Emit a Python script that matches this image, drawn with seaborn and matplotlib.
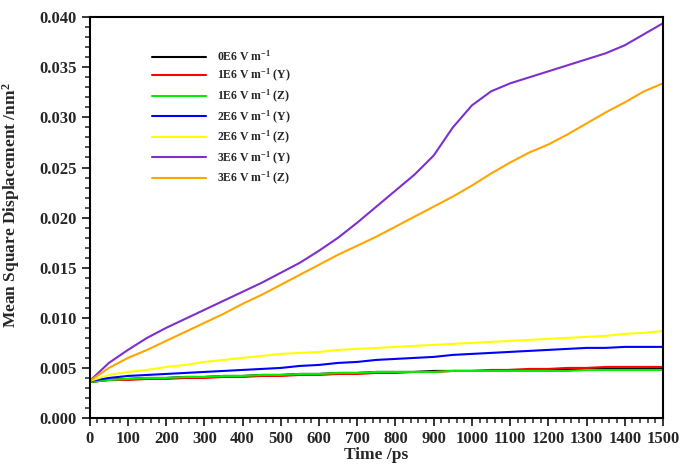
import matplotlib
matplotlib.use("Agg")
import matplotlib.pyplot as plt
from matplotlib.ticker import MultipleLocator, FormatStrFormatter
import seaborn as sns
import pandas as pd

# time axis (ps), sampled every 50 ps
time_ps = [0, 50, 100, 150, 200, 250, 300, 350, 400, 450, 500, 550, 600, 650, 700, 750,
           800, 850, 900, 950, 1000, 1050, 1100, 1150, 1200, 1250, 1300, 1350, 1400, 1450, 1500]

# mean square displacement (nm^2)
msd_0e6 = [0.0036, 0.0038, 0.0039, 0.0040, 0.0040, 0.0041, 0.0041, 0.0042, 0.0042, 0.0043, 0.0043,
           0.0044, 0.0044, 0.0045, 0.0045, 0.0046, 0.0046, 0.0046, 0.0047, 0.0047, 0.0047, 0.0047,
           0.0048, 0.0048, 0.0048, 0.0048, 0.0049, 0.0049, 0.0049, 0.0049, 0.0050]
msd_1e6_y = [0.0036, 0.0038, 0.0038, 0.0039, 0.0039, 0.0040, 0.0040, 0.0041, 0.0041, 0.0042, 0.0042,
             0.0043, 0.0043, 0.0044, 0.0044, 0.0045, 0.0045, 0.0046, 0.0046, 0.0047, 0.0047, 0.0048,
             0.0048, 0.0049, 0.0049, 0.0050, 0.0050, 0.0051, 0.0051, 0.0051, 0.0051]
msd_1e6_z = [0.0036, 0.0038, 0.0039, 0.0040, 0.0040, 0.0041, 0.0041, 0.0042, 0.0042, 0.0043, 0.0043,
             0.0044, 0.0044, 0.0045, 0.0045, 0.0046, 0.0046, 0.0046, 0.0046, 0.0047, 0.0047, 0.0047,
             0.0047, 0.0047, 0.0047, 0.0047, 0.0048, 0.0048, 0.0048, 0.0048, 0.0048]
msd_2e6_y = [0.0037, 0.0040, 0.0042, 0.0043, 0.0044, 0.0045, 0.0046, 0.0047, 0.0048, 0.0049, 0.0050,
             0.0052, 0.0053, 0.0055, 0.0056, 0.0058, 0.0059, 0.0060, 0.0061, 0.0063, 0.0064, 0.0065,
             0.0066, 0.0067, 0.0068, 0.0069, 0.0070, 0.0070, 0.0071, 0.0071, 0.0071]
msd_2e6_z = [0.0037, 0.0043, 0.0046, 0.0048, 0.0051, 0.0053, 0.0056, 0.0058, 0.0060, 0.0062, 0.0064,
             0.0065, 0.0066, 0.0068, 0.0069, 0.0070, 0.0071, 0.0072, 0.0073, 0.0074, 0.0075, 0.0076,
             0.0077, 0.0078, 0.0079, 0.0080, 0.0081, 0.0082, 0.0084, 0.0085, 0.0087]
msd_3e6_y = [0.0037, 0.0055, 0.0068, 0.0080, 0.0090, 0.0099, 0.0108, 0.0117, 0.0126, 0.0135, 0.0145,
             0.0155, 0.0167, 0.0180, 0.0195, 0.0211, 0.0227, 0.0243, 0.0262, 0.0290, 0.0312, 0.0326,
             0.0334, 0.0340, 0.0346, 0.0352, 0.0358, 0.0364, 0.0372, 0.0383, 0.0394]
msd_3e6_z = [0.0037, 0.0050, 0.0060, 0.0068, 0.0077, 0.0086, 0.0095, 0.0104, 0.0114, 0.0123, 0.0133,
             0.0143, 0.0153, 0.0163, 0.0172, 0.0181, 0.0191, 0.0201, 0.0211, 0.0221, 0.0232, 0.0244,
             0.0255, 0.0265, 0.0273, 0.0283, 0.0294, 0.0305, 0.0315, 0.0326, 0.0334]

labels = [r"0E6 V m$^{\mathbf{-1}}$",
          r"1E6 V m$^{\mathbf{-1}}$ (Y)",
          r"1E6 V m$^{\mathbf{-1}}$ (Z)",
          r"2E6 V m$^{\mathbf{-1}}$ (Y)",
          r"2E6 V m$^{\mathbf{-1}}$ (Z)",
          r"3E6 V m$^{\mathbf{-1}}$ (Y)",
          r"3E6 V m$^{\mathbf{-1}}$ (Z)"]
series = [msd_0e6, msd_1e6_y, msd_1e6_z, msd_2e6_y, msd_2e6_z, msd_3e6_y, msd_3e6_z]
colors = ["#000000", "#ff0000", "#00ee00", "#0000ff", "#ffff00", "#7d2fd0", "#ffa500"]

frames = []
for lab, vals in zip(labels, series):
    frames.append(pd.DataFrame({"time": time_ps, "msd": vals, "field": lab}))
df = pd.concat(frames, ignore_index=True)

sns.set_style("ticks")
plt.rcParams["font.family"] = ["Liberation Serif", "DejaVu Serif"]
plt.rcParams["font.weight"] = "bold"
plt.rcParams["mathtext.fontset"] = "custom"
plt.rcParams["mathtext.rm"] = "Liberation Serif:bold"
plt.rcParams["mathtext.bf"] = "Liberation Serif:bold"
plt.rcParams["mathtext.default"] = "bf"

fig = plt.figure(figsize=(6.8, 4.65), dpi=100)
ax = fig.add_axes([0.132, 0.101, 0.843, 0.862])

sns.lineplot(data=df, x="time", y="msd", hue="field", hue_order=labels,
             palette=dict(zip(labels, colors)), linewidth=1.5, ax=ax)

ax.set_xlim(0, 1500)
ax.set_ylim(0, 0.040)
ax.xaxis.set_major_locator(MultipleLocator(100))
ax.xaxis.set_minor_locator(MultipleLocator(20))
ax.yaxis.set_major_locator(MultipleLocator(0.005))
ax.yaxis.set_minor_locator(MultipleLocator(0.001))
ax.yaxis.set_major_formatter(FormatStrFormatter("%.3f"))
ax.tick_params(which="major", direction="out", length=6, width=1.3, labelsize=12)
ax.tick_params(which="minor", direction="out", length=3.5, width=1.1)
for lab in ax.get_xticklabels() + ax.get_yticklabels():
    lab.set_fontweight("bold")
for sp in ax.spines.values():
    sp.set_linewidth(1.5)
    sp.set_color("black")

ax.set_xlabel("Time /ps", fontsize=12.5, fontweight="bold", labelpad=0)
ax.set_ylabel(r"Mean Square Displacement /nm$^{\mathbf{2}}$", fontsize=12.5,
              fontweight="bold")
ax.yaxis.set_label_coords(-0.118, 0.53)

leg = ax.legend(loc="upper left", bbox_to_anchor=(0.108, 0.92), frameon=False,
                fontsize=8.5, handlelength=4.6, handletextpad=0.9, labelspacing=0.3,
                borderpad=0, borderaxespad=0, title=None)
for t in leg.get_texts():
    t.set_fontweight("bold")

fig.savefig("out.png", dpi=100)
